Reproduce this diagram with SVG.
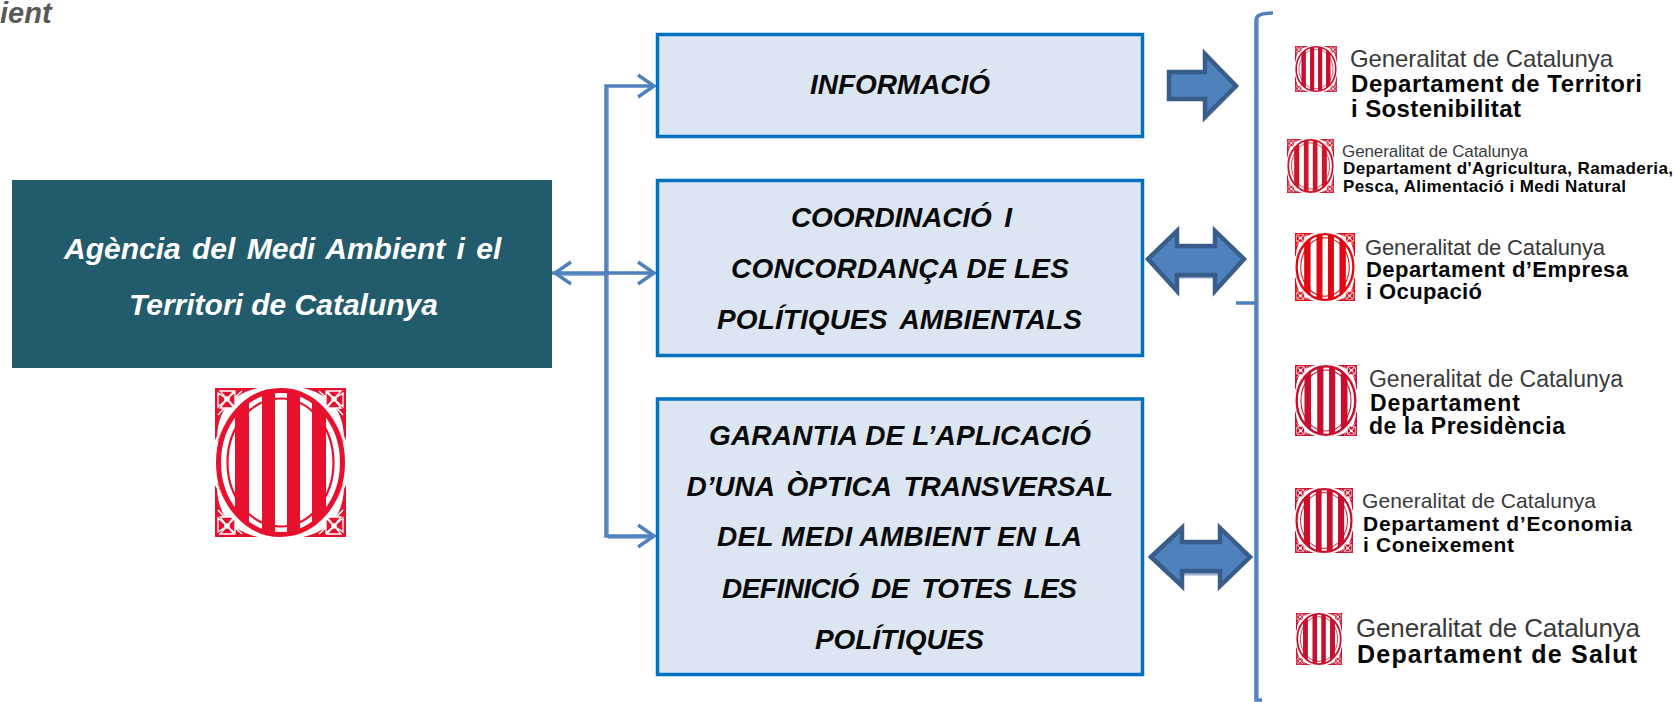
<svg xmlns="http://www.w3.org/2000/svg" xmlns:xlink="http://www.w3.org/1999/xlink" width="1677" height="702" viewBox="0 0 1677 702">
<style>
text{font-family:"Liberation Sans",Arial,sans-serif}
.b{font-size:28px;font-weight:bold;font-style:italic;fill:#0a0a0a}
.w{fill:#fff;font-size:30px}
.box{fill:#dce6f2;stroke:#0070c0;stroke-width:3.5}
.ln{fill:none;stroke:#4f81bd;stroke-width:3.5}
.sh{fill:none;stroke:#95b3d7;stroke-width:2}
.ar{fill:#4f81bd;stroke:#385d8a;stroke-width:4.5}
.g{fill:#3a3a3a;font-size:24px}
.d{fill:#050505;font-size:24px;font-weight:bold}
.ws{word-spacing:5px}
</style>
<defs>
<clipPath id="oval"><ellipse cx="65.5" cy="74.5" rx="62" ry="72"/></clipPath>
<clipPath id="inner"><ellipse cx="65.5" cy="74.5" rx="57" ry="67"/></clipPath>
<g id="corner">
<path d="M0,0H43Q20,5 9,22Q3,32 2,48L0,52Z" fill="currentColor"/>
<path d="M52,2Q16,14 3,54" fill="none" stroke="currentColor" stroke-width="1.4"/>
<path d="M27,3Q20,9 15,15M3,27Q9,20 15,15" fill="none" stroke="#fff" stroke-width="1.6"/>
<path d="M12,11L5,3H19ZM12,11L20,4V19ZM12,11L3,5V19ZM12,11L5,20H19Z" fill="currentColor" stroke="#fff" stroke-width="1.3"/>
<circle cx="12" cy="11" r="2.8" fill="#fff"/>
</g>
<g id="emblem">
<use xlink:href="#corner" href="#corner"/>
<use xlink:href="#corner" href="#corner" transform="translate(131,0) scale(-1,1)"/>
<use xlink:href="#corner" href="#corner" transform="translate(0,149) scale(1,-1)"/>
<use xlink:href="#corner" href="#corner" transform="translate(131,149) scale(-1,-1)"/>
<ellipse cx="65.5" cy="74.5" rx="65" ry="75" fill="#fff"/>
<ellipse cx="65.5" cy="74.5" rx="62" ry="72" fill="none" stroke="currentColor" stroke-width="5"/>
<g clip-path="url(#inner)">
<rect x="34" y="0" width="13" height="149" fill="#fff"/>
<rect x="60" y="0" width="12" height="149" fill="#fff"/>
<rect x="85" y="0" width="12" height="149" fill="#fff"/>
</g>
<ellipse cx="65.5" cy="74.5" rx="53" ry="64" fill="none" stroke="currentColor" stroke-width="2.2"/>
<g clip-path="url(#oval)" fill="currentColor">
<rect x="20" y="0" width="14" height="149"/>
<rect x="47" y="0" width="13" height="149"/>
<rect x="72" y="0" width="13" height="149"/>
<rect x="97" y="0" width="14" height="149"/>
</g>
</g>
</defs>
<rect width="1677" height="702" fill="#fff"/>
<text class="b" x="0" y="23" style="font-size:29px;fill:#595959">ient</text>

<g id="connectors">
<path class="sh" d="M608,88V536M556,275H606M608,538H650"/>
<path class="ln" d="M606,534V86H654M552,273H654M606,273V536H654"/>
<path class="ln" d="M638,75L654,86L638,97M638,262L654,273L638,284M638,525L654,536L638,547M571,262L555,273L571,284"/>
<path class="sh" d="M1258,16V698"/>
<path class="ln" d="M1273,13Q1256,13 1256,20V700H1262M1236,303H1256"/>
<path d="M1179,277H1213M1184,574H1218" fill="none" stroke="#9db0cc" stroke-width="3"/>
<path id="arrow1" class="ar" d="M1169,72H1205V54L1236,86L1205,117V99H1169Z"/>
<path id="arrow2" class="ar" d="M1148,259L1177,231V246H1215V231L1244,259L1215,291V275H1177V291Z"/>
<path id="arrow3" class="ar" d="M1151,557L1182,528V542H1220V528L1250,557L1220,586V571H1182V586Z"/>
</g>

<g id="agencia">
<rect x="12" y="180" width="540" height="188" fill="#225b6b"/>
<text class="b w" x="64" y="259" style="word-spacing:3px">Agència del Medi Ambient i el</text>
<text class="b w" x="129" y="315">Territori de Catalunya</text>
</g>
<g id="escut" color="#e8112d"><use xlink:href="#emblem" href="#emblem" transform="translate(215,388)"/></g>

<g id="informacio">
<rect class="box" x="657.5" y="34.5" width="485" height="102"/>
<text class="b" x="810" y="94" textLength="180">INFORMACIÓ</text>
</g>
<g id="coordinacio">
<rect class="box" x="657.5" y="180.5" width="485" height="175"/>
<text class="b ws" x="791" y="227" textLength="221">COORDINACIÓ I</text>
<text class="b" x="731" y="278" textLength="338">CONCORDANÇA DE LES</text>
<text class="b ws" x="717" y="329" textLength="365">POLÍTIQUES AMBIENTALS</text>
</g>
<g id="garantia">
<rect class="box" x="657.5" y="399" width="485" height="275.5"/>
<text class="b" x="709" y="444.5" textLength="382">GARANTIA DE L’APLICACIÓ</text>
<text class="b ws" x="686.5" y="495.5" textLength="426.5">D’UNA ÒPTICA TRANSVERSAL</text>
<text class="b" x="717" y="546" textLength="365">DEL MEDI AMBIENT EN LA</text>
<text class="b ws" x="722" y="597.5" textLength="355">DEFINICIÓ DE TOTES LES</text>
<text class="b" x="815" y="648.5" textLength="169">POLÍTIQUES</text>
</g>

<g id="dept-territori" color="#c8102e">
<use xlink:href="#emblem" href="#emblem" transform="translate(1295,46) scale(.32,.309)"/>
<text class="g" x="1350" y="67" textLength="263">Generalitat de Catalunya</text>
<text class="d" x="1351" y="92" textLength="291">Departament de Territori</text>
<text class="d" x="1351" y="117" textLength="170">i Sostenibilitat</text>
</g>
<g id="dept-agricultura" color="#d0142c">
<use xlink:href="#emblem" href="#emblem" transform="translate(1287,139) scale(.359,.362)"/>
<text class="g" style="font-size:17px" x="1342" y="157" textLength="186">Generalitat de Catalunya</text>
<text class="d" style="font-size:17px" x="1343" y="174" textLength="330">Departament d'Agricultura, Ramaderia,</text>
<text class="d" style="font-size:17px" x="1343" y="192" textLength="283">Pesca, Alimentació i Medi Natural</text>
</g>
<g id="dept-empresa" color="#e30613">
<use xlink:href="#emblem" href="#emblem" transform="translate(1295,233) scale(.458,.456)"/>
<text class="g" style="font-size:22px" x="1365" y="255" textLength="240">Generalitat de Catalunya</text>
<text class="d" style="font-size:22px" x="1366" y="277" textLength="262">Departament d’Empresa</text>
<text class="d" style="font-size:22px" x="1366" y="299" textLength="116">i Ocupació</text>
</g>
<g id="dept-presidencia" color="#c8102e">
<use xlink:href="#emblem" href="#emblem" transform="translate(1295,365) scale(.473,.477)"/>
<text class="g" style="font-size:23px" x="1369" y="387" textLength="254">Generalitat de Catalunya</text>
<text class="d" style="font-size:23px" x="1370" y="411" textLength="150">Departament</text>
<text class="d" style="font-size:23px" x="1369" y="434" textLength="196">de la Presidència</text>
</g>
<g id="dept-economia" color="#c8102e">
<use xlink:href="#emblem" href="#emblem" transform="translate(1295,488) scale(.443,.436)"/>
<text class="g" style="font-size:21px" x="1362" y="508" textLength="234">Generalitat de Catalunya</text>
<text class="d" style="font-size:21px" x="1363" y="531" textLength="269">Departament d’Economia</text>
<text class="d" style="font-size:21px" x="1363" y="552" textLength="151">i Coneixement</text>
</g>
<g id="dept-salut" color="#c8102e">
<use xlink:href="#emblem" href="#emblem" transform="translate(1296,613) scale(.351,.349)"/>
<text class="g" style="font-size:26px" x="1356" y="637" textLength="284">Generalitat de Catalunya</text>
<text class="d" style="font-size:25px" x="1357" y="663" textLength="280">Departament de Salut</text>
</g>
</svg>
